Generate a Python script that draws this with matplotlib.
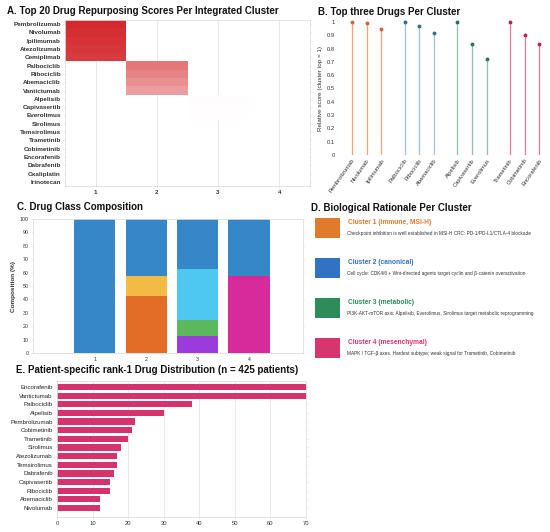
import numpy as np
import matplotlib
matplotlib.use("Agg")
import matplotlib.pyplot as plt
from matplotlib.colors import LinearSegmentedColormap
from matplotlib.patches import Rectangle

plt.rcParams['font.family'] = ['Liberation Sans', 'DejaVu Sans']

# ---------------- data ----------------
heat_drugs = ["Pembrolizumab", "Nivolumab", "Ipilimumab", "Atezolizumab", "Cemiplimab",
              "Palbociclib", "Ribociclib", "Abemaciclib", "Vantictumab", "Alpelisib",
              "Capivasertib", "Everolimus", "Sirolimus", "Temsirolimus", "Trametinib",
              "Cobimetinib", "Encorafenib", "Dabrafenib", "Oxaliplatin", "Irinotecan"]
heat_clusters = ["1", "2", "3", "4"]
heat_c1 = [1.00, 0.98, 0.96, 0.94, 0.92] + [0] * 15
heat_c2 = [0] * 5 + [0.64, 0.58, 0.52, 0.46] + [0] * 11
heat_c3 = [0] * 9 + [0.012, 0.010, 0.008] + [0] * 8
heat_c4 = [0] * 20

top3_drugs = [["Pembrolizumab", "Nivolumab", "Ipilimumab"],
              ["Palbociclib", "Ribociclib", "Abemaciclib"],
              ["Alpelisib", "Capivasertib", "Everolimus"],
              ["Trametinib", "Cobimetinib", "Encorafenib"]]
top3_scores = [[1.00, 0.99, 0.95],
               [1.00, 0.97, 0.915],
               [1.00, 0.835, 0.725],
               [1.00, 0.905, 0.835]]
stem_colors = ["#F4A672", "#9DC0DE", "#8FBFA7", "#E27BA2"]
mark_colors = ["#D9603B", "#2F6E95", "#2E7265", "#B8245A"]

comp_clusters = [1, 2, 3, 4]
comp_classes = ["Purple", "Green", "Cyan", "Orange", "Yellow", "Magenta", "Blue"]
comp_colors = ["#9B3BDB", "#5CB85C", "#4FC8F0", "#E36C27", "#F2BC44", "#D82B9B", "#3587C8"]
comp_values = {
    "Purple":  [0, 0, 12.5, 0],
    "Green":   [0, 0, 12.5, 0],
    "Cyan":    [0, 0, 37.5, 0],
    "Orange":  [0, 42.86, 0, 0],
    "Yellow":  [0, 14.29, 0, 0],
    "Magenta": [0, 0, 0, 57.14],
    "Blue":    [100, 42.85, 37.5, 42.86],
}

rat_titles = ["Cluster 1 (immune, MSI-H)", "Cluster 2 (canonical)",
              "Cluster 3 (metabolic)", "Cluster 4 (mesenchymal)"]
rat_texts = ["Checkpoint inhibition is well established in MSI-H CRC: PD-1/PD-L1/CTLA-4 blockade",
             "Cell cycle: CDK4/6 + Wnt-directed agents target cyclin and \u03b2-catenin overactivation",
             "PI3K-AKT-mTOR axis: Alpelisib, Everolimus, Sirolimus target metabolic reprogramming",
             "MAPK / TGF-\u03b2 axes. Hardest subtype; weak signal for Trametinib, Cobimetinib"]
rat_colors = ["#E07B2C", "#2F73C2", "#2E8B5A", "#D8346E"]

rank_drugs = ["Encorafenib", "Vantictumab", "Palbociclib", "Alpelisib", "Pembrolizumab",
              "Cobimetinib", "Trametinib", "Sirolimus", "Atezolizumab", "Temsirolimus",
              "Dabrafenib", "Capivasertib", "Ribociclib", "Abemaciclib", "Nivolumab"]
rank_counts = [70, 70, 38, 30, 22, 21, 20, 18, 17, 17, 16, 15, 15, 12, 12]

# ---------------- figure ----------------
W, H = 550, 532
fig = plt.figure(figsize=(W / 100, H / 100), dpi=100)
fig.patch.set_facecolor("white")


def ax_px(l, t, r, b):
    return fig.add_axes([l / W, 1 - b / H, (r - l) / W, (b - t) / H])


def frame(ax, color="#DDDDDD"):
    for s in ax.spines.values():
        s.set_color(color)
        s.set_linewidth(0.6)


title_kw = dict(fontsize=7, fontweight="bold", color="#111111", va="center", ha="left")

# ---- A: heatmap ----
axA = ax_px(65, 20, 310, 186)
mat = np.array([heat_c1, heat_c2, heat_c3, heat_c4]).T
masked = np.ma.masked_equal(mat, 0)
cmap = LinearSegmentedColormap.from_list("wr", ["#FFFFFF", "#D42A2F"])
axA.set_axisbelow(True)
axA.grid(axis="x", color="#E6E6E6", linewidth=0.6)
axA.pcolormesh(np.arange(len(heat_clusters) + 1) + 0.5, np.arange(len(heat_drugs) + 1) - 0.5,
               masked, cmap=cmap, vmin=0, vmax=1, shading="flat", zorder=2)
axA.set_xlim(0.5, 4.5)
axA.set_ylim(len(heat_drugs) - 0.5, -0.5)
axA.set_xticks(range(1, 5))
axA.set_xticklabels(heat_clusters, fontsize=4.5, fontweight="bold", color="#333333")
axA.set_yticks(range(len(heat_drugs)))
axA.set_yticklabels(heat_drugs, fontsize=4.6, fontweight="bold", color="#333333")
axA.tick_params(axis="both", length=1.5, width=0.4, color="#DDDDDD", pad=1.5)
axA.tick_params(axis="y", right=True)
frame(axA)
fig.text(7 / W, 1 - 11 / H, "A. Top 20 Drug Repurposing Scores Per Integrated Cluster", **title_kw)

# ---- B: lollipop ----
axB = ax_px(338, 22, 548, 155)
xs, labels = [], []
for g in range(4):
    for i in range(3):
        x = g * 3.6 + i
        y = top3_scores[g][i]
        axB.vlines(x, 0, y, color=stem_colors[g], linewidth=0.9)
        axB.plot([x], [y], marker="o", markersize=1.8, color=mark_colors[g], clip_on=False)
        xs.append(x)
        labels.append(top3_drugs[g][i])
axB.set_xlim(-0.95, 13.4)
axB.set_ylim(0, 1.0)
axB.set_yticks(np.arange(0, 1.01, 0.1))
axB.set_yticklabels(["0"] + ["%.1f" % v for v in np.arange(0.1, 0.95, 0.1)] + ["1"],
                    fontsize=4.2, color="#333333")
axB.set_xticks(xs)
axB.set_xticklabels(labels, rotation=55, ha="right", rotation_mode="anchor",
                    fontsize=4.2, color="#333333")
axB.tick_params(axis="both", length=0, pad=2)
for s in axB.spines.values():
    s.set_visible(False)
axB.set_ylabel("Relative score (cluster top = 1)", fontsize=4.5, color="#333333", labelpad=3)
fig.text(318 / W, 1 - 12 / H, "B. Top three Drugs Per Cluster", **title_kw)

# ---- C: stacked composition ----
axC = ax_px(33, 219, 303, 353)
bottom = np.zeros(len(comp_clusters))
for cls, col in zip(comp_classes, comp_colors):
    vals = np.array(comp_values[cls])
    axC.bar(comp_clusters, vals, bottom=bottom, width=0.8, color=col, linewidth=0)
    bottom += vals
axC.set_xlim(-0.2, 5.05)
axC.set_ylim(0, 100)
axC.set_yticks(range(0, 101, 10))
axC.set_yticklabels([str(v) for v in range(0, 101, 10)], fontsize=3.8, color="#333333")
axC.set_xticks(comp_clusters)
axC.set_xticklabels([str(c) for c in comp_clusters], fontsize=3.8, color="#333333")
axC.tick_params(axis="both", length=1.5, width=0.4, color="#DDDDDD", pad=1.5)
axC.tick_params(axis="y", right=True)
frame(axC)
axC.set_ylabel("Composition (%)", fontsize=4.6, fontweight="bold", color="#333333", labelpad=3)
fig.text(17 / W, 1 - 207 / H, "C. Drug Class Composition", **title_kw)

# ---- D: rationale text panel ----
fig.text(311 / W, 1 - 208 / H, "D. Biological Rationale Per Cluster", **title_kw)
for k in range(4):
    top = 218 + 40 * k
    fig.patches.append(Rectangle((315 / W, 1 - (top + 20) / H), 25 / W, 20 / H,
                                 transform=fig.transFigure, color=rat_colors[k], linewidth=0))
    fig.text(348 / W, 1 - (top + 4.5) / H, rat_titles[k], fontsize=4.8, fontweight="bold",
             color=rat_colors[k], va="center", ha="left")
    fig.text(347 / W, 1 - (top + 15.5) / H, rat_texts[k], fontsize=3.45,
             color="#333333", va="center", ha="left")

# ---- E: rank-1 distribution ----
axE = ax_px(57, 381, 306, 517)
ypos = np.arange(len(rank_drugs))
axE.set_axisbelow(True)
axE.grid(axis="x", color="#E6E6E6", linewidth=0.6)
axE.barh(ypos, rank_counts, height=0.72, color="#D6336C", linewidth=0)
axE.set_xlim(0, 70)
axE.set_ylim(len(rank_drugs) + 0.05, -0.7)
axE.set_xticks(range(0, 71, 10))
axE.set_xticklabels([str(v) for v in range(0, 71, 10)], fontsize=4.2, color="#333333")
axE.set_yticks(ypos)
axE.set_yticklabels(rank_drugs, fontsize=4.4, color="#222222")
axE.tick_params(axis="both", length=1.5, width=0.4, color="#DDDDDD", pad=1.5)
axE.tick_params(axis="y", right=True)
frame(axE)
fig.text(16 / W, 1 - 370 / H, "E. Patient-specific rank-1 Drug Distribution (n = 425 patients)", **title_kw)

fig.savefig("out.png", dpi=100, facecolor="white")
